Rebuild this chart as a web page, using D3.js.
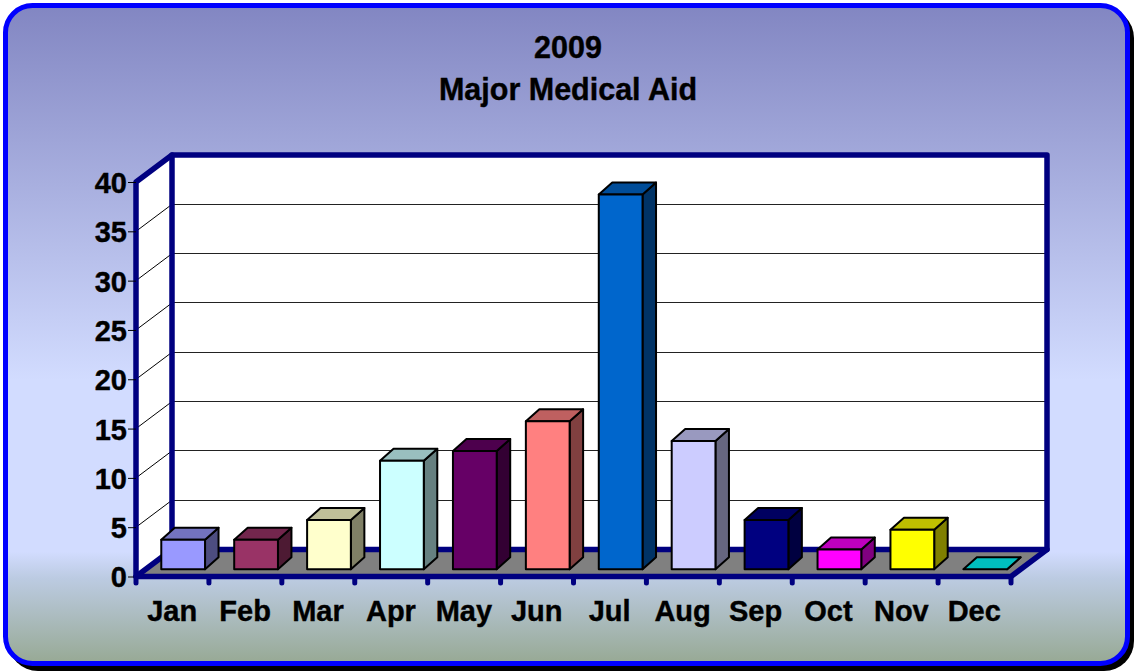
<!DOCTYPE html>
<html>
<head>
<meta charset="utf-8">
<script src="https://cdnjs.cloudflare.com/ajax/libs/d3/7.8.5/d3.min.js"></script>
<style>
  html, body { margin: 0; padding: 0; background: #fff; }
  svg { display: block; }
  text { font-family: "Liberation Sans", Arial, sans-serif; font-weight: bold; fill: #000; stroke: #000; stroke-width: 0.4px; }
</style>
</head>
<body>
<div id="graph"></div>
<script>
var months = ['Jan', 'Feb', 'Mar', 'Apr', 'May', 'Jun', 'Jul', 'Aug', 'Sep', 'Oct', 'Nov', 'Dec'];
var counts = [3, 3, 5, 11, 12, 15, 38, 13, 5, 2, 4, 0];
var colors = ['#9999ff', '#993366', '#ffffcc', '#ccffff', '#660066', '#ff8080', '#0066cc', '#ccccff', '#000080', '#ff00ff', '#ffff00', '#00ffff'];
var yTicks = [0, 5, 10, 15, 20, 25, 30, 35, 40];
var titleLines = ['2009', 'Major Medical Aid'];

var width = 1134, height = 671;
var navy = '#000080';

// front plane of the 3d box, the back wall is shifted by depth
var depth = { x: 36, y: -27 };
var barDepth = { x: 13.5, y: -12 };
var barShift = { x: 10.7, y: -7.2 };

var x = d3.scaleBand().domain(months).range([136, 1011]).paddingInner(0.4).paddingOuter(0.2);
var y = d3.scaleLinear().domain([0, 40]).range([576.5, 182]);

var svg = d3.select('#graph').append('svg')
  .attr('width', width)
  .attr('height', height);

var grad = svg.append('defs').append('linearGradient')
  .attr('id', 'panel')
  .attr('x1', 0).attr('y1', 0).attr('x2', 0).attr('y2', 1);
[[0, '#8286c2'], [0.57, '#d2dcff'], [0.83, '#d2dcff'], [0.87, '#bccbe2'], [1, '#97a994']].forEach(function(s) {
  grad.append('stop').attr('offset', s[0]).attr('stop-color', s[1]);
});

// shadow and panel
svg.append('rect')
  .attr('x', 8).attr('y', 8)
  .attr('width', 1126).attr('height', 663)
  .attr('rx', 30).attr('fill', '#000');
svg.append('rect')
  .attr('x', 5.5).attr('y', 5.5)
  .attr('width', 1122).attr('height', 658)
  .attr('rx', 27)
  .attr('fill', 'url(#panel)')
  .attr('stroke', '#0000ff')
  .attr('stroke-width', 5);

// title
svg.selectAll('.title')
  .data(titleLines)
  .enter().append('text')
  .attr('class', 'title')
  .attr('x', 568)
  .attr('y', function(d, i) { return 58 + i * 42; })
  .attr('text-anchor', 'middle')
  .style('font-size', '30.5px')
  .text(function(d) { return d; });

var x0 = x.range()[0], x1 = x.range()[1];
var y0 = y(0), yTop = y(40);
var line = d3.line();

// walls and floor
svg.append('path')
  .attr('d', line([[x0, yTop], [x0 + depth.x, yTop + depth.y], [x1 + depth.x, yTop + depth.y], [x1 + depth.x, y0 + depth.y], [x1, y0], [x0, y0]]) + 'Z')
  .attr('fill', '#fff');
svg.append('path')
  .attr('d', line([[x0, y0], [x0 + depth.x, y0 + depth.y], [x1 + depth.x, y0 + depth.y], [x1, y0]]) + 'Z')
  .attr('fill', '#808080');

// gridlines on back wall and left wall
var inner = yTicks.filter(function(d) { return d > 0 && d < 40; });
svg.selectAll('.grid-back')
  .data(inner)
  .enter().append('line')
  .attr('class', 'grid-back')
  .attr('x1', x0 + depth.x).attr('x2', x1 + depth.x)
  .attr('y1', function(d) { return Math.floor(y(d) + depth.y) + 0.5; })
  .attr('y2', function(d) { return Math.floor(y(d) + depth.y) + 0.5; })
  .attr('stroke', '#222').attr('stroke-width', 1);
svg.selectAll('.grid-side')
  .data(inner)
  .enter().append('line')
  .attr('class', 'grid-side')
  .attr('x1', x0).attr('x2', x0 + depth.x)
  .attr('y1', function(d) { return y(d); })
  .attr('y2', function(d) { return y(d) + depth.y; })
  .attr('stroke', '#000').attr('stroke-width', 1);

// box frame
var frame = [
  [[x0, y0], [x0, yTop], [x0 + depth.x, yTop + depth.y], [x1 + depth.x, yTop + depth.y], [x1 + depth.x, y0 + depth.y], [x1, y0], [x0, y0]],
  [[x0, y0], [x0 + depth.x, y0 + depth.y], [x1 + depth.x, y0 + depth.y]],
  [[x0 + depth.x, yTop + depth.y], [x0 + depth.x, y0 + depth.y]]
];
svg.selectAll('.frame')
  .data(frame)
  .enter().append('path')
  .attr('class', 'frame')
  .attr('d', function(d) { return line(d); })
  .attr('fill', 'none')
  .attr('stroke', navy)
  .attr('stroke-width', 5.5)
  .attr('stroke-linejoin', 'round')
  .attr('stroke-linecap', 'round');

// y axis, only the ticks and labels
var yAxis = svg.append('g')
  .attr('transform', 'translate(' + x0 + ',0)')
  .call(d3.axisLeft(y).tickValues(yTicks).tickSize(6).tickPadding(3));
yAxis.select('.domain').remove();
yAxis.selectAll('line').attr('stroke', '#000').attr('x2', -8);
yAxis.selectAll('text').style('font-size', '29px').attr('x', -9).attr('dy', '0.36em');

// x axis: round nubs at every slot edge
var tickEdges = d3.range(months.length + 1).map(function(i) { return x0 + i * x.step(); });
svg.selectAll('.nub')
  .data(tickEdges)
  .enter().append('line')
  .attr('class', 'nub')
  .attr('x1', function(d) { return d; }).attr('x2', function(d) { return d; })
  .attr('y1', y0).attr('y2', y0 + 6.5)
  .attr('stroke', navy).attr('stroke-width', 5).attr('stroke-linecap', 'round');

var xAxis = svg.append('g')
  .attr('transform', 'translate(0,' + y0 + ')')
  .call(d3.axisBottom(x).tickSize(0).tickPadding(24));
xAxis.select('.domain').remove();
xAxis.selectAll('text').style('font-size', '29px').attr('dx', '-0.01em');

// 3d bars
var bars = svg.selectAll('.bar')
  .data(months.map(function(m, i) { return { month: m, value: counts[i], color: colors[i] }; }))
  .enter().append('g')
  .attr('class', 'bar')
  .attr('stroke', '#000')
  .attr('stroke-width', 2)
  .attr('stroke-linejoin', 'round');

function shade(c, k) {
  var r = d3.rgb(c);
  return d3.rgb(r.r * k, r.g * k, r.b * k).formatHex();
}

bars.each(function(d) {
  var g = d3.select(this);
  var l = x(d.month) + barShift.x;
  var r = l + x.bandwidth();
  var b = y(0) + barShift.y;
  var t = y(d.value) + barShift.y;
  var dx = barDepth.x, dy = barDepth.y;

  g.append('path')
    .attr('d', line([[r, b], [r, t], [r + dx, t + dy], [r + dx, b + dy]]) + 'Z')
    .attr('fill', shade(d.color, 0.5));
  g.append('path')
    .attr('d', line([[l, t], [l + dx, t + dy], [r + dx, t + dy], [r, t]]) + 'Z')
    .attr('fill', shade(d.color, 0.75));
  if (d.value > 0) {
    g.append('rect')
      .attr('x', l).attr('y', t)
      .attr('width', r - l).attr('height', b - t)
      .attr('fill', d.color);
  }
});
</script>
</body>
</html>
